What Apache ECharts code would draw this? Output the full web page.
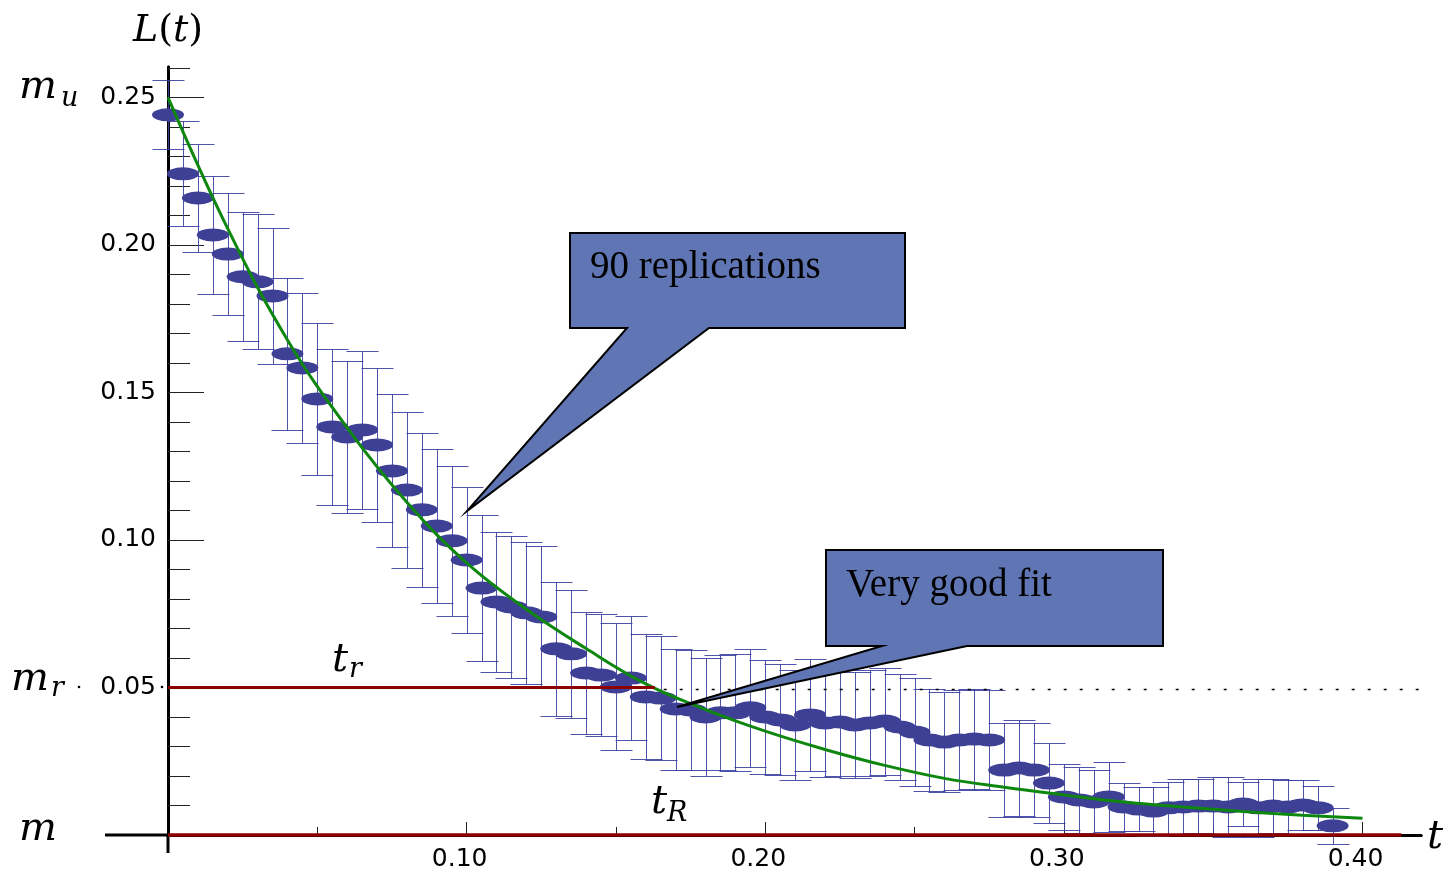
<!DOCTYPE html>
<html>
<head>
<meta charset="utf-8">
<script src="https://cdn.jsdelivr.net/npm/echarts@6/dist/echarts.min.js"></script>
<style>
  html, body { margin: 0; padding: 0; background: #ffffff; }
  #chart { width: 1446px; height: 879px; }
</style>
</head>
<body>
<div id="chart"></div>
<script>
// Simulation times t (one estimate every 0.005)
const tValues = [
  0.000, 0.005, 0.010, 0.015, 0.020, 0.025, 0.030, 0.035, 0.040, 0.045,
  0.050, 0.055, 0.060, 0.065, 0.070, 0.075, 0.080, 0.085, 0.090, 0.095,
  0.100, 0.105, 0.110, 0.115, 0.120, 0.125, 0.130, 0.135, 0.140, 0.145,
  0.150, 0.155, 0.160, 0.165, 0.170, 0.175, 0.180, 0.185, 0.190, 0.195,
  0.200, 0.205, 0.210, 0.215, 0.220, 0.225, 0.230, 0.235, 0.240, 0.245,
  0.250, 0.255, 0.260, 0.265, 0.270, 0.275, 0.280, 0.285, 0.290, 0.295,
  0.300, 0.305, 0.310, 0.315, 0.320, 0.325, 0.330, 0.335, 0.340, 0.345,
  0.350, 0.355, 0.360, 0.365, 0.370, 0.375, 0.380, 0.385, 0.390
];

// Mean L(t) over the replications
const meanLoss = [
  0.2441, 0.2241, 0.2159, 0.2034, 0.1969, 0.1892, 0.1875, 0.1827, 0.1631, 0.1583,
  0.1478, 0.1383, 0.1349, 0.1373, 0.1322, 0.1234, 0.1169, 0.1102, 0.1047, 0.0997,
  0.0932, 0.0837, 0.0790, 0.0773, 0.0753, 0.0739, 0.0631, 0.0614, 0.0549, 0.0542,
  0.0502, 0.0532, 0.0468, 0.0464, 0.0427, 0.0424, 0.0400, 0.0414, 0.0414, 0.0431,
  0.0400, 0.0390, 0.0373, 0.0407, 0.0380, 0.0383, 0.0373, 0.0380, 0.0386, 0.0366,
  0.0349, 0.0322, 0.0315, 0.0322, 0.0325, 0.0322, 0.0220, 0.0227, 0.0220, 0.0176,
  0.0129, 0.0119, 0.0112, 0.0129, 0.0095, 0.0088, 0.0081, 0.0092, 0.0095, 0.0098,
  0.0098, 0.0095, 0.0105, 0.0092, 0.0098, 0.0095, 0.0102, 0.0092, 0.0031
];

// Half-width of each error bar
const errHalf = [
  0.0117, 0.0178, 0.0182, 0.0200, 0.0208, 0.0219, 0.0229, 0.0230, 0.0258, 0.0255,
  0.0257, 0.0263, 0.0256, 0.0268, 0.0261, 0.0259, 0.0264, 0.0260, 0.0260, 0.0254,
  0.0247, 0.0247, 0.0237, 0.0240, 0.0240, 0.0240, 0.0226, 0.0217, 0.0206, 0.0207,
  0.0215, 0.0210, 0.0212, 0.0210, 0.0205, 0.0203, 0.0200, 0.0195, 0.0198, 0.0200,
  0.0192, 0.0188, 0.0186, 0.0190, 0.0185, 0.0183, 0.0180, 0.0179, 0.0181, 0.0178,
  0.0183, 0.0172, 0.0170, 0.0171, 0.0169, 0.0170, 0.0160, 0.0162, 0.0158, 0.0136,
  0.0113, 0.0112, 0.0110, 0.0118, 0.0080, 0.0076, 0.0083, 0.0089, 0.0095, 0.0092,
  0.0099, 0.0102, 0.0075, 0.0098, 0.0092, 0.0091, 0.0084, 0.0074, 0.0060
];

// Fitted decay curve
const fitT = [0.00, 0.02, 0.04, 0.06, 0.08, 0.10, 0.12, 0.14, 0.16, 0.18, 0.20,
              0.22, 0.24, 0.26, 0.28, 0.30, 0.32, 0.34, 0.36, 0.38, 0.40];
const fitL = [0.2500, 0.2055, 0.1678, 0.1380, 0.1128, 0.0922, 0.0765, 0.0632, 0.0512, 0.0425, 0.0352,
              0.0290, 0.0236, 0.0192, 0.0162, 0.0136, 0.0112, 0.0095, 0.0080, 0.0067, 0.0057];

// Reference levels m_r and m, with the t-extent of each line
const mrLevel = 0.05;
const mrLineEnd = 0.163;
const mLevel = 0;
const mLineEnd = 0.413;
const guideLevel = 0.0493;
const guideStart = 0.166;
const guideEnd = 0.4245;

// Axis ticks and labels
const xMajorTicks = [0.10, 0.20, 0.30, 0.40];
const xMinorTicks = [0.05, 0.15, 0.25, 0.35];
const yMajorTicks = [0.05, 0.10, 0.15, 0.20, 0.25];
const yMinorTicks = [0.01, 0.02, 0.03, 0.04, 0.06, 0.07, 0.08, 0.09, 0.11, 0.12, 0.13, 0.14,
                     0.16, 0.17, 0.18, 0.19, 0.21, 0.22, 0.23, 0.24, 0.26];

// Callout texts
const calloutTexts = ['90 replications', 'Very good fit'];

// Axis ranges; the axes cross at the origin and overshoot it a little
const X_MAX = 0.4196, Y_MAX = 0.2603;
const X_OVERSHOOT = -0.0211, Y_OVERSHOOT = -0.0061;

const errorData = tValues.map((t, i) => [t, meanLoss[i] - errHalf[i], meanLoss[i] + errHalf[i]]);
const pointData = tValues.map((t, i) => [t, meanLoss[i]]);
const fitData = fitT.map((t, i) => [t, fitL[i]]);

const AXIS_FONT = 'DejaVu Sans';
const MATH_FONT = 'DejaVu Serif';
const NOTE_FONT = 'Liberation Serif';

function baseXAxis(ticks, len, withLabels) {
  return {
    type: 'value', min: 0, max: X_MAX, position: 'bottom',
    axisLine: { show: true, onZero: false, lineStyle: { color: '#000', width: 3 } },
    axisTick: { show: true, inside: true, length: len, customValues: ticks,
                lineStyle: { color: '#222', width: 1 } },
    axisLabel: withLabels ? {
      show: true, customValues: ticks, formatter: v => v.toFixed(2),
      fontFamily: AXIS_FONT, fontSize: 25, color: '#000', margin: 12, padding: [0, 14, 0, 0]
    } : { show: false },
    splitLine: { show: false }
  };
}
function baseYAxis(ticks, len, withLabels) {
  return {
    type: 'value', min: 0, max: Y_MAX, position: 'left',
    axisLine: { show: true, onZero: false, lineStyle: { color: '#000', width: 3 } },
    axisTick: { show: true, inside: true, length: len, customValues: ticks,
                lineStyle: { color: '#222', width: 1 } },
    axisLabel: withLabels ? {
      show: true, customValues: ticks, formatter: v => v.toFixed(2),
      fontFamily: AXIS_FONT, fontSize: 25, color: '#000', margin: 12
    } : { show: false },
    splitLine: { show: false }
  };
}

function mathText(text, x, y, size) {
  return {
    type: 'text', x: x, y: y, z: 20,
    style: {
      text: text, fill: '#000', fontFamily: MATH_FONT, fontSize: size,
      fontStyle: 'italic', verticalAlign: 'middle', align: 'left'
    }
  };
}

function callout(points, text, tx, ty) {
  return [
    { type: 'polygon', z: 15, shape: { points: points },
      style: { fill: '#6076b4', stroke: '#000', lineWidth: 2, lineJoin: 'miter' } },
    { type: 'text', z: 16, x: tx, y: ty,
      style: { text: text, fill: '#000', fontFamily: NOTE_FONT, fontSize: 39,
               verticalAlign: 'middle', align: 'left' } }
  ];
}

function plainLine(name, data, color, width, extra) {
  return Object.assign({
    name: name, type: 'line', z: 4, clip: false, data: data,
    showSymbol: false, symbol: 'none', silent: true,
    lineStyle: { color: color, width: width }
  }, extra || {});
}

// snap a 1px stroke to the pixel grid
const crisp = v => Math.round(v) + 0.5;

const chart = echarts.init(document.getElementById('chart'), null, { renderer: 'canvas' });

const option = {
  backgroundColor: '#ffffff',
  animation: false,
  grid: { left: 168, right: 25, top: 67, bottom: 44, containLabel: false, outerBoundsMode: 'none' },
  xAxis: [ baseXAxis(xMajorTicks, 13, true), baseXAxis(xMinorTicks, 8, false) ],
  yAxis: [ baseYAxis(yMajorTicks, 36, true), baseYAxis(yMinorTicks, 22, false) ],
  series: [
    {
      // axis lines continuing past the origin
      name: 'axis overshoot', type: 'custom', z: 0, clip: false, silent: true,
      data: [[0, 0]],
      renderItem: function (params, api) {
        const o = api.coord([0, 0]);
        const xl = api.coord([X_OVERSHOOT, 0]);
        const yb = api.coord([0, Y_OVERSHOOT]);
        const st = { stroke: '#000', lineWidth: 3 };
        return {
          type: 'group',
          children: [
            { type: 'line', shape: { x1: xl[0], y1: o[1], x2: o[0], y2: o[1] }, style: st },
            { type: 'line', shape: { x1: o[0], y1: o[1], x2: o[0], y2: yb[1] }, style: st }
          ]
        };
      }
    },
    {
      name: 'error bars', type: 'custom', z: 1, clip: false, data: errorData,
      encode: { x: 0, y: [1, 2] },
      renderItem: function (params, api) {
        const t = api.value(0);
        const top = api.coord([t, api.value(2)]);
        const bot = api.coord([t, api.value(1)]);
        const x = crisp(top[0]), y1 = crisp(top[1]), y2 = crisp(bot[1]);
        const hw = 16;
        const style = { stroke: '#3c40a0', lineWidth: 1, opacity: 0.9 };
        return {
          type: 'group',
          children: [
            { type: 'line', shape: { x1: x, y1: y1, x2: x, y2: y2 }, style: style },
            { type: 'line', shape: { x1: x - hw, y1: y1, x2: x + hw, y2: y1 }, style: style },
            { type: 'line', shape: { x1: x - hw, y1: y2, x2: x + hw, y2: y2 }, style: style }
          ]
        };
      }
    },
    {
      name: 'mean', type: 'scatter', z: 2, clip: false, data: pointData,
      symbol: 'circle', symbolSize: [32, 13],
      itemStyle: { color: '#3e4096', opacity: 1 }
    },
    plainLine('fit', fitData, '#0e870e', 3, { z: 3, smooth: 0.4 }),
    plainLine('m_r', [[0, mrLevel], [mrLineEnd, mrLevel]], '#8c0000', 3),
    plainLine('m', [[0, mLevel], [mLineEnd, mLevel]], '#8c0000', 3.5),
    plainLine('guide', [[guideStart, guideLevel], [guideEnd, guideLevel]], '#000', 1.5,
              { lineStyle: { color: '#000', width: 1.5, type: [3, 13] } })
  ],
  graphic: [
    // callout boxes
    ...callout([[570, 233], [905, 233], [905, 328], [709, 328], [467, 511], [627, 328], [570, 328]],
               calloutTexts[0], 590, 268),
    ...callout([[826, 550], [1163, 550], [1163, 646], [967, 646], [677, 707], [882, 646], [826, 646]],
               calloutTexts[1], 846, 586),
    // axis names and reference symbols
    { type: 'text', x: 133, y: 31, z: 20,
      style: { text: '{i|L}{n|(}{i|t}{n|)}', verticalAlign: 'middle', align: 'left',
        rich: {
          i: { fontFamily: MATH_FONT, fontStyle: 'italic', fontSize: 38, fill: '#000' },
          n: { fontFamily: MATH_FONT, fontStyle: 'normal', fontSize: 38, fill: '#000' }
        } } },
    mathText('m', 19, 88, 40),
    mathText('u', 61, 99, 27),
    mathText('m', 11, 680, 40),
    mathText('r', 51, 689, 27),
    mathText('m', 19, 830, 40),
    mathText('t', 332, 661, 40),
    mathText('r', 349, 670, 27),
    mathText('t', 651, 803, 40),
    mathText('R', 667, 814, 27),
    mathText('t', 1427, 838, 40),
    { type: 'circle', z: 20, shape: { cx: 79, cy: 687, r: 1.3 }, style: { fill: '#000' } },
    { type: 'circle', z: 20, shape: { cx: 162, cy: 687, r: 1.3 }, style: { fill: '#000' } }
  ]
};

chart.setOption(option);
</script>
</body>
</html>
